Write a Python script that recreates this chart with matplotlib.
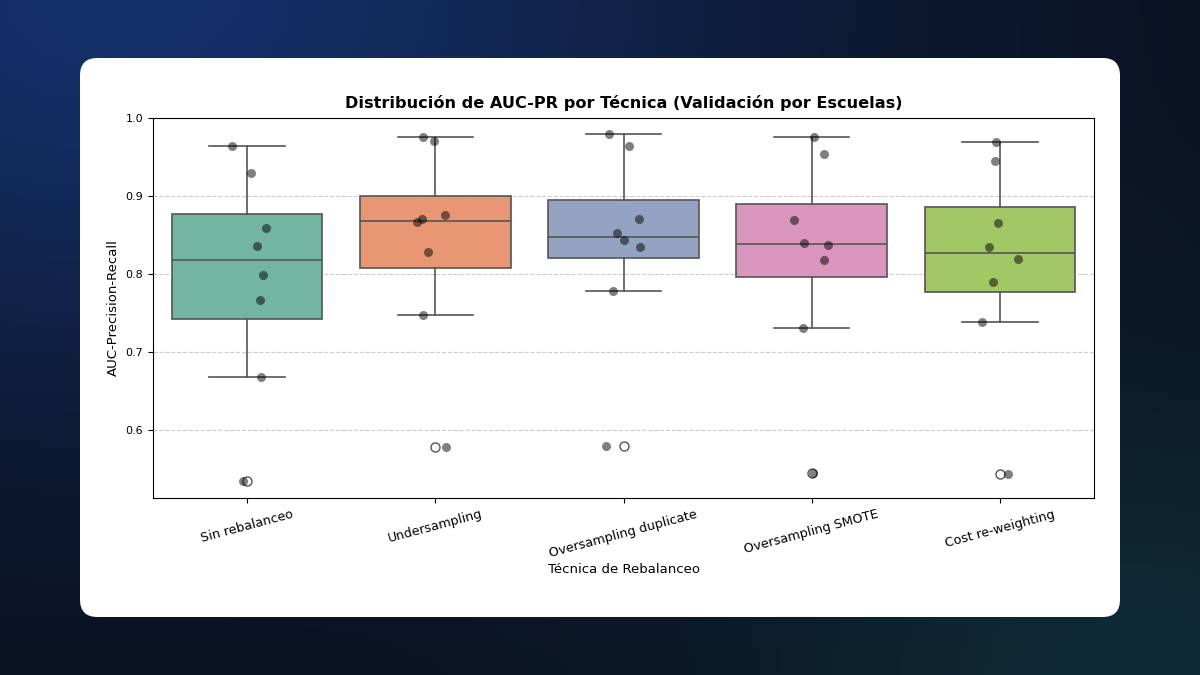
import numpy as np
import matplotlib
matplotlib.use("Agg")
import matplotlib.pyplot as plt
from matplotlib.patches import FancyBboxPatch
import seaborn as sns

# ---- data ----
categories = ["Sin rebalanceo", "Undersampling", "Oversampling duplicate",
              "Oversampling SMOTE", "Cost re-weighting"]
sin_rebalanceo = [0.964, 0.929, 0.859, 0.836, 0.799, 0.767, 0.668, 0.535]
undersampling = [0.976, 0.971, 0.876, 0.870, 0.867, 0.828, 0.748, 0.578]
oversampling_dup = [0.979, 0.964, 0.871, 0.853, 0.843, 0.835, 0.778, 0.5795]
oversampling_smote = [0.975, 0.954, 0.869, 0.840, 0.837, 0.818, 0.731, 0.545]
cost_reweighting = [0.969, 0.945, 0.866, 0.835, 0.819, 0.790, 0.739, 0.543]
series = [sin_rebalanceo, undersampling, oversampling_dup,
          oversampling_smote, cost_reweighting]
# horizontal jitter of each strip point (category units)
jitter = [
    [-0.082, 0.021, 0.102, 0.053, 0.085, 0.067, 0.076, -0.020],
    [-0.064, -0.005, 0.050, -0.072, -0.096, -0.037, -0.067, 0.057],
    [-0.077, 0.028, 0.081, -0.036, 0.000, 0.089, -0.057, -0.095],
    [0.014, 0.067, -0.094, -0.039, 0.087, 0.067, -0.045, 0.009],
    [-0.021, -0.026, -0.009, -0.058, 0.095, -0.035, -0.097, 0.041],
]
title = "Distribución de AUC-PR por Técnica (Validación por Escuelas)"
xlabel = "Técnica de Rebalanceo"
ylabel = "AUC-Precision-Recall"

# ---- figure & background ----
W, H = 1200, 675
fig = plt.figure(figsize=(12, 6.75), dpi=100)

bg = fig.add_axes([0, 0, 1, 1], zorder=-10)
bg.set_axis_off()
yy, xx = np.mgrid[0:1:200j, 0:1:360j]
base = np.array([0x0a, 0x11, 0x1f]) / 255.0
blue = np.array([0x14, 0x30, 0x68]) / 255.0
teal = np.array([0x0e, 0x2a, 0x36]) / 255.0
wb = np.exp(-(((xx - 0.1) / 0.55) ** 2 + ((yy - 0.0) / 0.6) ** 2))
wt = np.exp(-(((xx - 0.95) / 0.35) ** 2 + ((yy - 1.0) / 0.45) ** 2))
img = base[None, None, :] * (1 - wb[..., None]) + blue[None, None, :] * wb[..., None]
img = img * (1 - wt[..., None]) + teal[None, None, :] * wt[..., None]
bg.imshow(np.clip(img, 0, 1), extent=[0, 1, 0, 1], aspect="auto", origin="upper")
bg.set_xlim(0, 1)
bg.set_ylim(0, 1)

card = FancyBboxPatch((80 / W, (H - 617) / H), (1120 - 80) / W, (617 - 58) / H,
                      boxstyle="round,pad=0,rounding_size=0.0145",
                      transform=fig.transFigure, facecolor="white",
                      edgecolor="none", zorder=-5, mutation_aspect=W / H)
fig.patches.append(card)

# ---- chart ----
ax = fig.add_axes([153 / W, 1 - 498 / H, (1094 - 153) / W, (498 - 118) / H])
ax.set_facecolor("white")

pal = sns.color_palette("Set2", len(categories))
colors = [sns.desaturate(c, 0.75) for c in pal]
line_c = "#555555"
positions = np.arange(len(categories))

bp = ax.boxplot(series, positions=positions, widths=0.8, patch_artist=True,
                medianprops=dict(color=line_c, linewidth=1.2),
                boxprops=dict(edgecolor=line_c, linewidth=1.2),
                whiskerprops=dict(color=line_c, linewidth=1.2),
                capprops=dict(color=line_c, linewidth=1.2),
                capwidths=0.4,
                flierprops=dict(marker="o", markerfacecolor="white",
                                markeredgecolor=line_c, markersize=6.5,
                                markeredgewidth=1.0),
                zorder=2)
for patch, c in zip(bp["boxes"], colors):
    patch.set_facecolor(c)

for i, (vals, jit) in enumerate(zip(series, jitter)):
    ax.scatter(positions[i] + np.array(jit), vals, s=42, color="black",
               alpha=0.5, linewidths=0, zorder=3)

ax.set_xlim(-0.5, len(categories) - 0.5)
ax.set_ylim(0.5128, 1.0)
ax.set_yticks([0.6, 0.7, 0.8, 0.9, 1.0])
ax.set_xticks(positions)
ax.set_xticklabels(categories, rotation=15, fontsize=9.2)
ax.tick_params(axis="y", labelsize=8)
ax.tick_params(axis="both", length=3.5)
ax.yaxis.grid(True, linestyle="--", color="#c8c8c8", linewidth=0.8, alpha=0.9)
ax.set_axisbelow(True)
ax.set_title(title, fontsize=11.6, fontweight="bold", pad=7)
ax.set_xlabel(xlabel, fontsize=9.5, labelpad=2)
ax.set_ylabel(ylabel, fontsize=9.5)

fig.savefig("out.png", dpi=100)
